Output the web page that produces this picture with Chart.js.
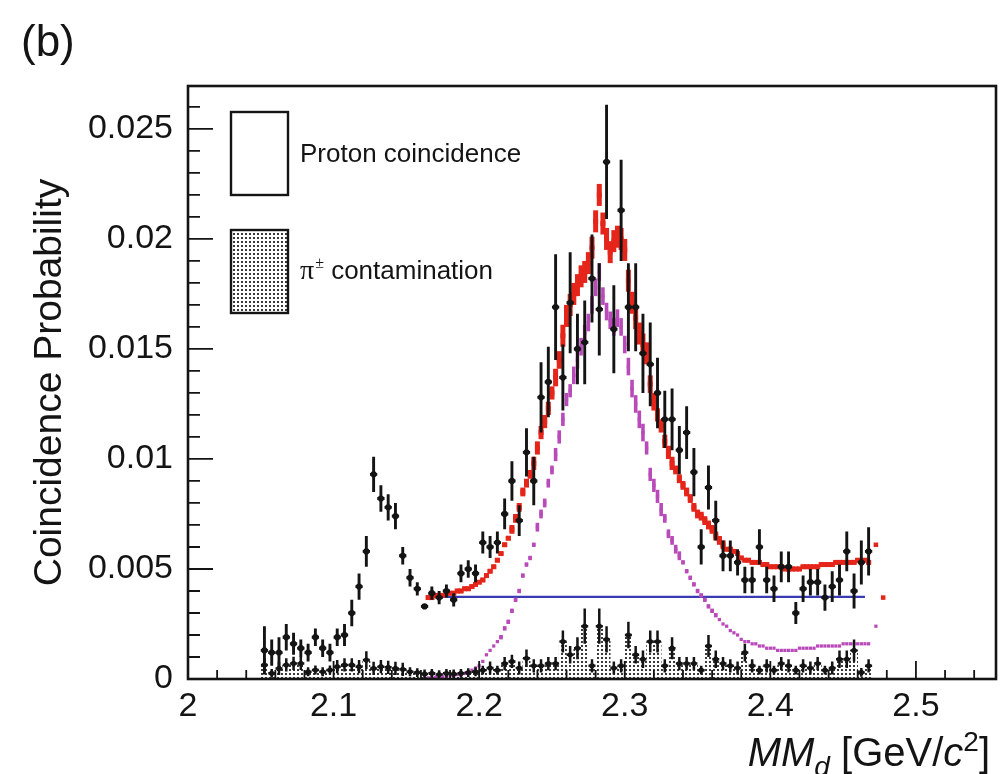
<!DOCTYPE html>
<html>
<head>
<meta charset="utf-8">
<script src="https://cdn.jsdelivr.net/npm/chart.js@4.4.1/dist/chart.umd.min.js"></script>
<style>
  html, body { margin: 0; padding: 0; background: #fff; }
  #wrap { width: 1000px; height: 774px; }
</style>
</head>
<body>
<div id="wrap"><canvas id="mmPlot" width="1000" height="774"></canvas></div>
<script>
// bin centres of the measured histograms (GeV/c^2)
const binX = [
  2.0525,2.0575,2.0625,2.0675,2.0725,2.0775,2.0825,2.0875,2.0925,2.0975,
  2.1025,2.1075,2.1125,2.1175,2.1225,2.1275,2.1325,2.1375,2.1425,2.1475,
  2.1525,2.1575,2.1625,2.1675,2.1725,2.1775,2.1825,2.1875,2.1925,2.1975,
  2.2025,2.2075,2.2125,2.2175,2.2225,2.2275,2.2325,2.2375,2.2425,2.2475,
  2.2525,2.2575,2.2625,2.2675,2.2725,2.2775,2.2825,2.2875,2.2925,2.2975,
  2.3025,2.3075,2.3125,2.3175,2.3225,2.3275,2.3325,2.3375,2.3425,2.3475,
  2.3525,2.3575,2.3625,2.3675,2.3725,2.3775,2.3825,2.3875,2.3925,2.3975,
  2.4025,2.4075,2.4125,2.4175,2.4225,2.4275,2.4325,2.4375,2.4425,2.4475,
  2.4525,2.4575,2.4625,2.4675
];

// proton coincidence probability and its error
const protonY = [
  0.0013,0.0012,0.0012,0.0019,0.0016,0.0014,0.0012,0.0019,0.0014,0.0012,
  0.0019,0.0020,0.0030,0.0042,0.0058,0.0093,0.0082,0.0078,0.0074,0.0056,
  0.0046,0.0041,0.0033,0.0039,0.0037,0.0040,0.0036,0.0048,0.0050,0.0048,
  0.0062,0.0060,0.0062,0.0075,0.0090,0.0072,0.0103,0.0090,0.0128,0.0135,
  0.0169,0.0137,0.0171,0.0150,0.0153,0.0182,0.0168,0.0235,0.0159,0.0213,
  0.0169,0.0169,0.0148,0.0143,0.0130,0.0118,0.0118,0.0104,0.0112,0.0094,
  0.0060,0.0087,0.0072,0.0056,0.0056,0.0053,0.0045,0.0045,0.0060,0.0045,
  0.0041,0.0051,0.0051,0.0030,0.0041,0.0044,0.0044,0.0037,0.0042,0.0045,
  0.0058,0.0040,0.0053,0.0058
];
const protonErr = [
  0.0011,0.0006,0.0007,0.0006,0.0005,0.0004,0.0004,0.0004,0.0004,0.0004,
  0.0004,0.0005,0.0006,0.0006,0.0007,0.0008,0.0006,0.0006,0.0006,0.0004,
  0.0004,0.0003,0,0.0003,0.0003,0.0003,0.0003,0.0004,0.0004,0.0004,
  0.0005,0.0005,0.0005,0.0007,0.0009,0.0007,0.0011,0.0011,0.0016,0.0016,
  0.0024,0.0015,0.0023,0.0016,0.0019,0.0020,0.0021,0.0026,0.0020,0.0023,
  0.0020,0.0020,0.0018,0.0019,0.0016,0.0013,0.0014,0.0011,0.0012,0.0011,
  0.0008,0.0010,0.0009,0.0007,0.0007,0.0006,0.0006,0.0006,0.0008,0.0006,
  0.0006,0.0007,0.0007,0.0005,0.0006,0.0006,0.0006,0.0006,0.0007,0.0007,
  0.0009,0.0008,0.0010,0.0011
];

// pi+- contamination and its error
const contamY = [
  0.00064,0.00026,0.00048,0.00064,0.00071,0.00071,0.00033,0.00041,0.00033,0.00041,
  0.00056,0.00064,0.00064,0.00056,0.00086,0.00048,0.00056,0.00053,0.00048,0.00044,
  0.00033,0.00029,0.00023,0.00026,0.00020,0.00026,0.00023,0.00026,0.00029,0.00033,
  0.00040,0.00050,0.00040,0.00070,0.00080,0.00050,0.00094,0.00060,0.00060,0.00070,
  0.0007,0.0017,0.0011,0.0014,0.0024,0.0006,0.0024,0.0018,0.0005,0.0006,
  0.0020,0.0011,0.0009,0.0017,0.0017,0.0006,0.0014,0.0007,0.0007,0.0007,
  0.0004,0.0015,0.0009,0.0007,0.0006,0.0005,0.0012,0.0006,0.0004,0.0006,
  0.0004,0.0007,0.0006,0.0004,0.0006,0.0005,0.0007,0.0004,0.0005,0.0009,
  0.0009,0.0013,0.0003,0.0006
];
const contamErr = [
  0.0003,0.0002,0.0003,0.0003,0.0003,0.0003,0.0002,0.0002,0.0002,0.0002,
  0.0003,0.0003,0.0003,0.0003,0.0004,0.0003,0.0003,0.0003,0.0003,0.0003,
  0.0002,0.0002,0.0002,0.0002,0.0002,0.0002,0.0002,0.0002,0.0002,0.0002,
  0.0002,0.0003,0.0002,0.0003,0.0003,0.0003,0.0004,0.0003,0.0003,0.0003,
  0.0003,0.0005,0.0004,0.0005,0.0008,0.0003,0.0008,0.0006,0.0003,0.0003,
  0.0006,0.0004,0.0004,0.0005,0.0005,0.0003,0.0005,0.0003,0.0003,0.0003,
  0.0002,0.0005,0.0004,0.0003,0.0003,0.0003,0.0004,0.0003,0.0002,0.0003,
  0.0002,0.0003,0.0003,0.0002,0.0003,0.0003,0.0003,0.0002,0.0003,0.0004,
  0.0004,0.0005,0.0002,0.0003
];

// simulated spectra (finer binning)
const simX = [
  2.1650,2.1675,2.1700,2.1725,2.1750,2.1775,2.1800,2.1825,2.1850,2.1875,
  2.1900,2.1925,2.1950,2.1975,2.2000,2.2025,2.2050,2.2075,2.2100,2.2125,
  2.2150,2.2175,2.2200,2.2225,2.2250,2.2275,2.2300,2.2325,2.2350,2.2375,
  2.2400,2.2425,2.2450,2.2475,2.2500,2.2525,2.2550,2.2575,2.2600,2.2625,
  2.2650,2.2675,2.2700,2.2725,2.2750,2.2775,2.2800,2.2825,2.2850,2.2875,
  2.2900,2.2925,2.2950,2.2975,2.3000,2.3025,2.3050,2.3075,2.3100,2.3125,
  2.3150,2.3175,2.3200,2.3225,2.3250,2.3275,2.3300,2.3325,2.3350,2.3375,
  2.3400,2.3425,2.3450,2.3475,2.3500,2.3525,2.3550,2.3575,2.3600,2.3625,
  2.3650,2.3675,2.3700,2.3725,2.3750,2.3775,2.3800,2.3825,2.3850,2.3875,
  2.3900,2.3925,2.3950,2.3975,2.4000,2.4025,2.4050,2.4075,2.4100,2.4125,
  2.4150,2.4175,2.4200,2.4225,2.4250,2.4275,2.4300,2.4325,2.4350,2.4375,
  2.4400,2.4425,2.4450,2.4475,2.4500,2.4525,2.4550,2.4575,2.4600,2.4625,
  2.4650,2.4675
];
// total (red)
const totalY = [
  0.0037,0.0037,0.0038,0.0038,0.0038,0.0039,0.0039,0.0039,0.0040,0.0040,
  0.0041,0.0041,0.0042,0.0043,0.0044,0.0045,0.0047,0.0049,0.0051,0.0054,
  0.0057,0.0061,0.0064,0.0068,0.0073,0.0078,0.0085,0.0089,0.0093,0.0098,
  0.0105,0.0112,0.0117,0.0123,0.0130,0.0137,0.0145,0.0156,0.0165,0.0170,
  0.0175,0.0179,0.0183,0.0185,0.0189,0.0196,0.0208,0.0220,0.0207,0.0200,
  0.0194,0.0199,0.0201,0.0200,0.0195,0.0181,0.0171,0.0164,0.0157,0.0152,
  0.0148,0.0134,0.0126,0.0120,0.0115,0.0108,0.0103,0.0098,0.0095,0.0091,
  0.0088,0.0085,0.0082,0.0078,0.0075,0.0074,0.0072,0.0070,0.0068,0.0065,
  0.0063,0.0061,0.0059,0.0059,0.0058,0.0057,0.0055,0.0054,0.0054,0.0053,
  0.0053,0.0053,0.0052,0.0052,0.0051,0.0051,0.0051,0.0051,0.0050,0.0050,
  0.0050,0.0050,0.0050,0.0051,0.0051,0.0051,0.0051,0.0051,0.0052,0.0052,
  0.0052,0.0052,0.0053,0.0053,0.0053,0.0053,0.0053,0.0053,0.0054,0.0053,
  0.0054,0.0053
];
const totalErr = [
  0.0001,0.0001,0.0001,0.0001,0.0001,0.0001,0.0001,0.0001,0.0001,0.0001,
  0.0001,0.0001,0.0001,0.0001,0.0001,0.0001,0.0001,0.0001,0.0001,0.0001,
  0.0001,0.0001,0.0001,0.0002,0.0002,0.0002,0.0002,0.0002,0.0002,0.0003,
  0.0003,0.0003,0.0003,0.0003,0.0003,0.0004,0.0004,0.0005,0.0005,0.0005,
  0.0005,0.0005,0.0005,0.0005,0.0005,0.0005,0.0005,0.0005,0.0005,0.0005,
  0.0005,0.0005,0.0005,0.0005,0.0005,0.0005,0.0005,0.0005,0.0005,0.0005,
  0.0005,0.0004,0.0004,0.0003,0.0003,0.0003,0.0003,0.0003,0.0002,0.0002,
  0.0002,0.0002,0.0002,0.0002,0.0002,0.0002,0.0002,0.0002,0.0002,0.0002,
  0.0002,0.0002,0.0001,0.0001,0.0001,0.0001,0.0001,0.0001,0.0001,0.0001,
  0.0001,0.0001,0.0001,0.0001,0.0001,0.0001,0.0001,0.0001,0.0001,0.0001,
  0.0001,0.0001,0.0001,0.0001,0.0001,0.0001,0.0001,0.0001,0.0001,0.0001,
  0.0001,0.0001,0.0001,0.0001,0.0001,0.0001,0.0001,0.0001,0.0001,0.0001,
  0.0001,0.0001
];
// signal part (magenta)
const signalY = [
  0.00005,0.00005,0.00008,0.0001,0.0001,0.00012,0.00015,0.00015,0.0002,0.0002,
  0.00025,0.0003,0.0004,0.0005,0.0006,0.0008,0.0011,0.0013,0.0015,0.0017,
  0.0019,0.0023,0.0026,0.0031,0.0036,0.0040,0.0047,0.0052,0.0055,0.0061,
  0.0069,0.0075,0.0080,0.0089,0.0095,0.0102,0.0110,0.0118,0.0127,0.0131,
  0.0138,0.0145,0.0151,0.0157,0.0162,0.0170,0.0178,0.0185,0.0174,0.0167,
  0.0163,0.0160,0.0164,0.0160,0.0152,0.0142,0.0132,0.0125,0.0118,0.0112,
  0.0105,0.0093,0.0088,0.0083,0.0077,0.0073,0.0066,0.0063,0.0059,0.0056,
  0.0053,0.0049,0.0046,0.0043,0.0040,0.0038,0.0036,0.0033,0.0031,0.0029,
  0.0027,0.0025,0.0024,0.0022,0.0021,0.0020,0.0018,0.0017,0.0017,0.0016,
  0.0016,0.0015,0.0015,0.0014,0.0014,0.0014,0.0013,0.0013,0.0013,0.0013,
  0.0013,0.0013,0.0014,0.0014,0.0014,0.0014,0.0014,0.0015,0.0015,0.0015,
  0.0015,0.0015,0.0015,0.0015,0.0016,0.0016,0.0016,0.0016,0.0016,0.0016,
  0.0016,0.0016
];
const signalErr = [
  0,0,0,0,0,0,0,0,0,0,
  0,0,0,0,0,0,0,0,0,0,
  0.0001,0.0001,0.0001,0.0001,0.0001,0.0001,0.0001,0.0001,0.0001,0.0001,
  0.0002,0.0002,0.0002,0.0002,0.0002,0.0003,0.0003,0.0003,0.0003,0.0003,
  0.0004,0.0004,0.0004,0.0004,0.0004,0.0004,0.0004,0.0004,0.0004,0.0004,
  0.0004,0.0004,0.0004,0.0004,0.0004,0.0004,0.0004,0.0004,0.0004,0.0004,
  0.0003,0.0003,0.0003,0.0003,0.0003,0.0002,0.0002,0.0002,0.0002,0.0002,
  0.0001,0.0001,0.0001,0.0001,0.0001,0.0001,0.0001,0.0001,0.0001,0.0001,
  0,0,0,0,0,0,0,0,0,0,
  0,0,0,0,0,0,0,0,0,0,
  0,0,0,0,0,0,0,0,0,0,
  0,0,0,0,0,0,0,0,0,0,
  0,0
];
// stray simulated points past the last bin
const totalEdgeX = [2.4725, 2.4775];
const totalEdgeY = [0.0061, 0.0037];
const signalEdgeX = [2.4725];
const signalEdgeY = [0.0024];

// flat background level
const bgX = [2.165, 2.465];
const bgY = [0.00373, 0.00373];

const xTickStep = 0.1;
const yTickStep = 0.005;

const FONT = "'Liberation Sans', Arial, Helvetica, sans-serif";
const SERIF = "'Liberation Serif', 'DejaVu Serif', serif";
const INK = '#141414';
const RED = '#e5241a';
const MAGENTA = '#b94ab9';
const BLUE = '#3a3ab4';

Chart.defaults.font.family = FONT;
Chart.defaults.color = INK;

function toPoints(xs, ys) {
    return xs.map((x, i) => ({ x: x, y: ys[i] }));
}

const canvas = document.getElementById('mmPlot');
const ctx = canvas.getContext('2d');

// dotted fill for the contamination histogram
function makeDots() {
    const tile = document.createElement('canvas');
    tile.width = 4;
    tile.height = 4;
    const g = tile.getContext('2d');
    g.fillStyle = '#fff';
    g.fillRect(0, 0, 4, 4);
    g.fillStyle = '#3a3a3a';
    g.fillRect(1, 1, 2, 2);
    return ctx.createPattern(tile, 'repeat');
}
const dots = makeDots();

// vertical error bars (+ short horizontal arm) after each dataset
const errorBars = {
    id: 'errorBars',
    afterDatasetDraw(chart, args) {
        const ds = chart.data.datasets[args.index];
        if (!ds.errors) return;
        const c = chart.ctx, xs = chart.scales.x, ys = chart.scales.y, a = chart.chartArea;
        c.save();
        c.beginPath();
        c.rect(a.left, a.top, a.right - a.left, a.bottom - a.top);
        c.clip();
        c.strokeStyle = ds.errColor;
        c.lineWidth = ds.errWidth;
        ds.data.forEach((p, i) => {
            const e = ds.errors[i];
            const px = xs.getPixelForValue(p.x);
            const py = ys.getPixelForValue(p.y);
            c.beginPath();
            if (e > 0) {
                c.moveTo(px, ys.getPixelForValue(p.y - e));
                c.lineTo(px, ys.getPixelForValue(p.y + e));
            }
            if (ds.armHalf) {
                c.moveTo(xs.getPixelForValue(p.x - ds.armHalf), py);
                c.lineTo(xs.getPixelForValue(p.x + ds.armHalf), py);
            }
            c.stroke();
        });
        c.restore();
    }
};

// ROOT style frame with inner ticks
const frameTicks = {
    id: 'frameTicks',
    afterDatasetsDraw(chart) {
        const c = chart.ctx, a = chart.chartArea, xs = chart.scales.x, ys = chart.scales.y;
        c.save();
        c.strokeStyle = INK;
        c.lineWidth = 1.8;
        c.beginPath();
        for (let i = 0; 2 + i * 0.02 <= xs.max + 1e-9; i++) {
            const px = xs.getPixelForValue(2 + i * 0.02);
            const len = i % 5 === 0 ? 18 : 9;
            c.moveTo(px, a.bottom);
            c.lineTo(px, a.bottom - len);
        }
        for (let i = 0; i * 0.001 <= ys.max + 1e-9; i++) {
            const py = ys.getPixelForValue(i * 0.001);
            const len = i % 5 === 0 ? 25 : 12;
            c.moveTo(a.left, py);
            c.lineTo(a.left + len, py);
        }
        c.stroke();
        c.lineWidth = 2.6;
        c.strokeRect(a.left, a.top, a.right - a.left, a.bottom - a.top);
        c.restore();
    }
};

// panel label, in-frame legend and the x title with sub/superscripts
function drawPieces(c, pieces, rightX, baseY) {
    let total = 0;
    pieces.forEach(p => { c.font = p.font; p.w = c.measureText(p.text).width; total += p.w; });
    let x = rightX - total;
    pieces.forEach(p => {
        c.font = p.font;
        c.fillText(p.text, x, baseY + (p.dy || 0));
        x += p.w;
    });
}

const decorations = {
    id: 'decorations',
    afterDraw(chart) {
        const c = chart.ctx, a = chart.chartArea;
        c.save();
        c.fillStyle = INK;
        c.textBaseline = 'alphabetic';
        c.textAlign = 'left';

        c.font = '44px ' + FONT;
        c.fillText('(b)', 21, 56);

        // legend boxes
        const bx = a.left + 43, bw = 57, bh = 83;
        c.lineWidth = 2.4;
        c.strokeStyle = INK;
        c.fillStyle = '#fff';
        c.fillRect(bx, a.top + 26, bw, bh);
        c.strokeRect(bx, a.top + 26, bw, bh);
        c.fillStyle = dots;
        c.fillRect(bx, a.top + 144, bw, bh);
        c.strokeRect(bx, a.top + 144, bw, bh);

        c.fillStyle = INK;
        c.textBaseline = 'middle';
        c.font = '26px ' + FONT;
        const tx = a.left + 112;
        c.fillText('Proton coincidence', tx, a.top + 69);
        c.font = '28px ' + SERIF;
        c.fillText('\u03c0', tx, a.top + 186);
        let w = c.measureText('\u03c0').width;
        c.font = '16px ' + SERIF;
        c.fillText('\u00b1', tx + w + 1, a.top + 178);
        w += c.measureText('\u00b1').width + 1;
        c.font = '26px ' + FONT;
        c.fillText(' contamination', tx + w, a.top + 186);

        c.textBaseline = 'alphabetic';
        drawPieces(c, [
            { text: 'MM', font: 'italic 40px ' + FONT },
            { text: 'd', font: 'italic 28px ' + FONT, dy: 10 },
            { text: ' [GeV/', font: '40px ' + FONT },
            { text: 'c', font: 'italic 40px ' + FONT },
            { text: '2', font: '28px ' + FONT, dy: -15 },
            { text: ']', font: '40px ' + FONT }
        ], 990, 766);
        c.restore();
    }
};

const pointStyle = (color, radius, shape) => ({
    showLine: false,
    pointStyle: shape,
    pointRadius: radius,
    pointBackgroundColor: color,
    pointBorderColor: color,
    pointBorderWidth: 0
});

new Chart(ctx, {
    type: 'scatter',
    data: {
        datasets: [
            Object.assign({
                label: 'Proton coincidence',
                data: toPoints(binX, protonY),
                errors: protonErr, errColor: INK, errWidth: 2.9, armHalf: 0.0025
            }, pointStyle(INK, 3.1, 'circle')),
            Object.assign({
                label: 'pi contamination',
                data: toPoints(binX, contamY),
                errors: contamErr, errColor: INK, errWidth: 2.5, armHalf: 0.0024
            }, pointStyle(INK, 2.6, 'circle')),
            Object.assign({
                label: 'total',
                data: toPoints(simX, totalY),
                errors: totalErr, errColor: RED, errWidth: 5
            }, pointStyle(RED, 3.5, 'rect')),
            Object.assign({
                label: 'total edge',
                data: toPoints(totalEdgeX, totalEdgeY)
            }, pointStyle(RED, 3.2, 'rect')),
            Object.assign({
                label: 'signal',
                data: toPoints(simX, signalY),
                errors: signalErr, errColor: MAGENTA, errWidth: 3.6
            }, pointStyle(MAGENTA, 2.3, 'rect')),
            Object.assign({
                label: 'signal edge',
                data: toPoints(signalEdgeX, signalEdgeY)
            }, pointStyle(MAGENTA, 2.3, 'rect')),
            {
                label: 'background',
                data: toPoints(bgX, bgY),
                showLine: true,
                pointRadius: 0,
                borderColor: BLUE,
                borderWidth: 2.2
            },
            {
                type: 'bar',
                label: 'contamination histogram',
                data: toPoints(binX, contamY),
                backgroundColor: dots,
                borderWidth: 0,
                barPercentage: 1,
                categoryPercentage: 1,
                grouped: false
            }
        ]
    },
    options: {
        responsive: false,
        animation: false,
        events: [],
        layout: { padding: { left: 0, right: 3, top: 86, bottom: 0 } },
        plugins: {
            legend: { display: false },
            tooltip: { enabled: false }
        },
        scales: {
            x: {
                type: 'linear',
                min: 2,
                max: 2.555,
                offset: false,
                grid: { display: false, drawTicks: false },
                border: { display: false },
                ticks: {
                    stepSize: xTickStep,
                    includeBounds: false,
                    autoSkip: false,
                    maxRotation: 0,
                    padding: 7,
                    color: INK,
                    font: { size: 34 },
                    callback: v => String(+v.toFixed(1))
                },
                afterFit: s => { s.height = 95; }
            },
            y: {
                min: 0,
                max: 0.02695,
                grid: { display: false, drawTicks: false },
                border: { display: false },
                ticks: {
                    stepSize: yTickStep,
                    includeBounds: false,
                    padding: 15,
                    color: INK,
                    font: { size: 34 },
                    callback: v => (v === 0 ? '0' : String(+v.toFixed(3)))
                },
                title: {
                    display: true,
                    text: 'Coincidence Probability',
                    color: INK,
                    font: { size: 39 },
                    padding: { top: 27, bottom: 0 }
                },
                afterFit: s => { s.width = 188; }
            }
        }
    },
    plugins: [errorBars, frameTicks, decorations]
});
</script>
</body>
</html>
